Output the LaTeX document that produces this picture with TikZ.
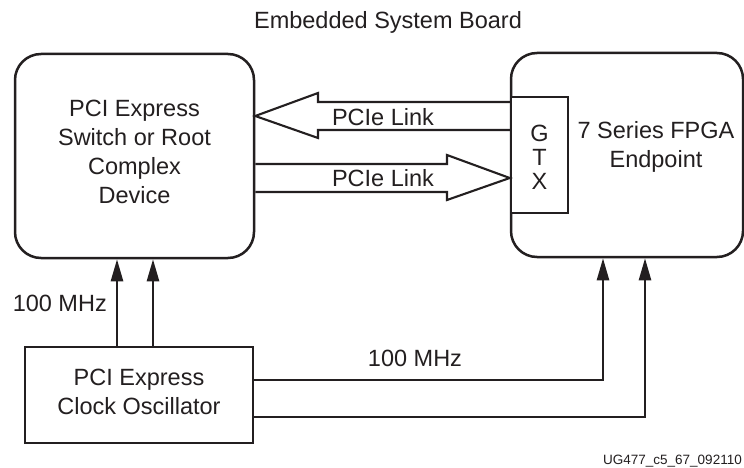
\documentclass[tikz,border=0pt]{standalone}
\usepackage{fontspec}
\setmainfont{Liberation Sans}
\usetikzlibrary{arrows.meta,calc}
\definecolor{ink}{HTML}{231F20}
\tikzset{
  box/.style={draw=ink, line width=2.5pt, fill=white, inner sep=0pt},
  rbox/.style={box, rounded corners=26pt},
  lbl/.style={text=ink, font=\fontsize{23.5}{29}\selectfont, align=center, inner sep=0pt},
  small/.style={text=ink, font=\fontsize{13.5}{16}\selectfont, inner sep=0pt},
  arr/.style={draw=ink, line width=2.5pt, -{Triangle[length=22pt,width=12pt]}},
  fat/.style={draw=ink, line width=2.1pt, line join=miter},
}
\begin{document}
\begin{tikzpicture}[x=1pt,y=-1pt]
\useasboundingbox (0,0) rectangle (744,468);
\fill[white] (0,0) rectangle (744,468);

\node[lbl] (title) at (388,22) {Embedded System Board};

\node[rbox, minimum width=239pt, minimum height=204pt] (host) at (134.5,156) {};
\node[lbl] (hosttxt) at (134.5,152) {PCI Express\\Switch or Root\\Complex\\Device};

\node[rbox, minimum width=232pt, minimum height=204pt] (fpga) at (627,155) {};
\node[lbl] (fpgatxt) at (656,147) {7 Series FPGA\\Endpoint};

\node[box, minimum width=57pt, minimum height=116pt] (gtx) at (539.5,155) {};
\node[lbl, font=\fontsize{23.5}{24}\selectfont] (gtxtxt) at (539.5,157) {G\\T\\X};

\node[box, minimum width=228pt, minimum height=96pt] (osc) at (139,395) {};
\node[lbl] (osctxt) at (139,392) {PCI Express\\Clock Oscillator};

% hollow link arrows
\draw[fat] (gtx.west |- 0,102) -- (318,102) -- (318,93) -- (host.east |- 0,116) -- (318,138) -- (318,130) -- (gtx.west |- 0,130);
\draw[fat] (host.east |- 0,164) -- (447,164) -- (447,155) -- (gtx.west |- 0,178) -- (447,200) -- (447,192) -- (host.east |- 0,192);
\node[lbl] (l1) at (383,117) {PCIe Link};
\node[lbl] (l2) at (383,178) {PCIe Link};

% clock arrows
\coordinate (c1) at (117,0);
\coordinate (c2) at (153,0);
\draw[arr] (osc.north -| c1) -- (host.south -| c1);
\draw[arr] (osc.north -| c2) -- (host.south -| c2);
\node[lbl, anchor=east] (f1) at (107,303) {100 MHz};

\coordinate (r1) at (603,380);
\coordinate (r2) at (645,417);
\draw[arr] (osc.east |- r1) -| (fpga.south -| r1);
\draw[arr] (osc.east |- r2) -| (fpga.south -| r2);
\node[lbl] (f2) at (415,358) {100 MHz};

\node[small, anchor=east] (id) at (742,461) {UG477\_c5\_67\_092110};
\end{tikzpicture}
\end{document}
